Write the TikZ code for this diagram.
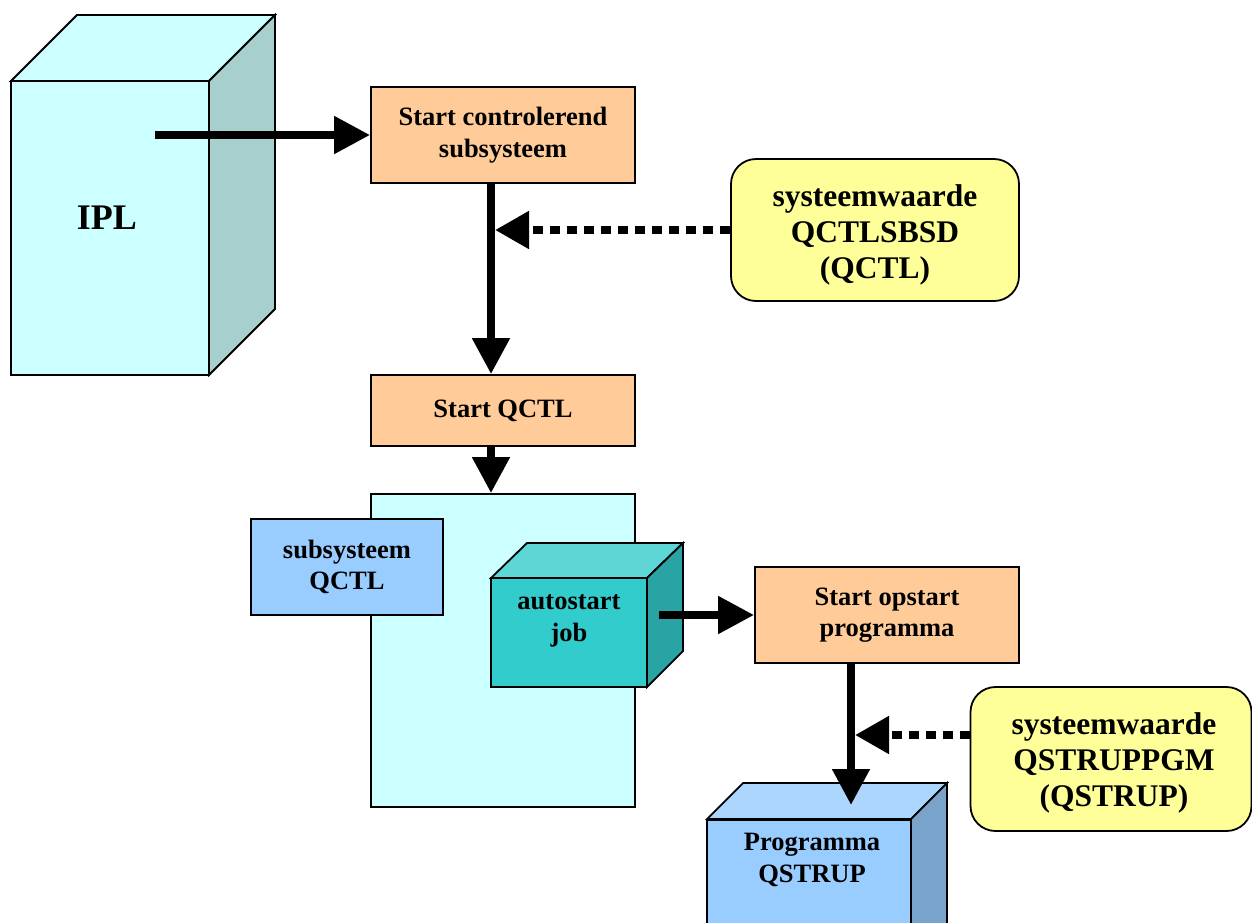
\documentclass[tikz,border=0pt]{standalone}
\usepackage{fontspec}
\setmainfont{Liberation Serif}
\usetikzlibrary{arrows.meta,calc}
\definecolor{orangec}{HTML}{FFCC99}
\definecolor{cyanc}{HTML}{CCFFFF}
\definecolor{cyanside}{HTML}{A6CFCE}
\definecolor{bluec}{HTML}{99CCFF}
\definecolor{bluetop}{HTML}{ADD6FF}
\definecolor{blueside}{HTML}{7AA3CC}
\definecolor{yellowc}{HTML}{FFFF99}
\definecolor{tealc}{HTML}{33CCCC}
\definecolor{tealtop}{HTML}{5ED6D6}
\definecolor{tealside}{HTML}{29A3A3}
\tikzset{
  basebox/.style={draw, line width=1.8pt, align=center, inner sep=0pt, font=\bfseries\fontsize{26.5}{31.5}\selectfont},
  orangebox/.style={basebox, fill=orangec},
  bluebox/.style={basebox, fill=bluec},
  yellowbox/.style={basebox, fill=yellowc, rounded corners=25pt},
  face/.style={draw, line width=1.8pt, line join=miter},
  txt/.style={align=center, inner sep=0pt, font=\bfseries\fontsize{26.5}{31.5}\selectfont},
  bigtxt/.style={align=center, inner sep=0pt, font=\bfseries\fontsize{31.5}{36}\selectfont},
  bigarrow/.style={line width=8pt, -{Triangle[length=36pt,width=36pt]}},
  dotarrow/.style={line width=8pt, dash pattern=on 10pt off 7pt, -{Triangle[length=34pt,width=36pt]}},
}
\begin{document}
\begin{tikzpicture}[x=1pt,y=-1pt]
\useasboundingbox (0,0) rectangle (1252,922);
\clip (0,0) rectangle (1252,922);
% IPL cube
\filldraw[face, fill=cyanc] (11,81) -- (77,15) -- (275,15) -- (209,81) -- cycle;
\filldraw[face, fill=cyanside] (209,81) -- (275,15) -- (275,309) -- (209,375) -- cycle;
\node[basebox, fill=cyanc, minimum width=198pt, minimum height=294pt] (ipl) at (110,228) {};
\node[txt, font=\bfseries\fontsize{36}{40}\selectfont] (ipllabel) at (107,218) {IPL};
\coordinate (iplout) at (155,135);
\coordinate (jx) at (491,0);
\coordinate (kx) at (851,0);
% boxes
\node[orangebox, minimum width=264pt, minimum height=96pt] (b1) at (503,135) {Start controlerend\\subsysteem};
\node[orangebox, minimum width=264pt, minimum height=71pt] (b2) at (503,410.5) {Start QCTL};
\node[yellowbox, minimum width=288pt, minimum height=142pt] (y1) at (875,230) {};
\node[bigtxt] (y1label) at (875,235) {systeemwaarde\\QCTLSBSD\\(QCTL)};
% container
\node[basebox, fill=cyanc, minimum width=264pt, minimum height=313pt] (cont) at (503,650.5) {};
\node[bluebox, minimum width=192pt, minimum height=96pt] (sub) at (347,567) {subsysteem\\QCTL};
% autostart cube
\filldraw[face, fill=tealtop] (491,578) -- (527,543) -- (683,543) -- (647,578) -- cycle;
\filldraw[face, fill=tealside] (647,578) -- (683,543) -- (683,651) -- (647,687) -- cycle;
\node[basebox, fill=tealc, minimum width=156pt, minimum height=109pt] (auto) at (569,632.5) {};
\node[txt] (autolabel) at (569,621) {autostart\\job};
\coordinate (autoout) at (659,615);
\node[orangebox, minimum width=264pt, minimum height=96pt] (b3) at (887,615) {Start opstart\\programma};
\node[yellowbox, minimum width=281pt, minimum height=144pt] (y2) at (1111,759) {};
\node[bigtxt] (y2label) at (1114,763) {systeemwaarde\\QSTRUPPGM\\(QSTRUP)};
% programma cube
\filldraw[face, fill=bluetop] (707,819) -- (743,783) -- (947,783) -- (911,819) -- cycle;
\filldraw[face, fill=blueside] (911,819) -- (947,783) -- (947,960) -- (911,990) -- cycle;
\node[basebox, fill=bluec, minimum width=204pt, minimum height=171pt, anchor=north] (prog) at (809,819) {};
\node[txt] (proglabel) at (812,860) {Programma\\QSTRUP};
\coordinate (progin) at (851,805);
% connectors
\draw[bigarrow] (iplout) -- (b1.west);
\draw[bigarrow] (b1.south -| jx) -- (b2.north -| jx);
\draw[bigarrow] (b2.south -| jx) -- (cont.north -| jx);
\draw[dotarrow] (y1.west) -- ($(y1.west -| jx)+(4,0)$);
\draw[bigarrow] (autoout) -- (b3.west);
\draw[bigarrow] (b3.south -| kx) -- (progin);
\draw[dotarrow] (y2.west |- 0,735) -- ($(kx |- 0,735)+(4,0)$);
\end{tikzpicture}
\end{document}
